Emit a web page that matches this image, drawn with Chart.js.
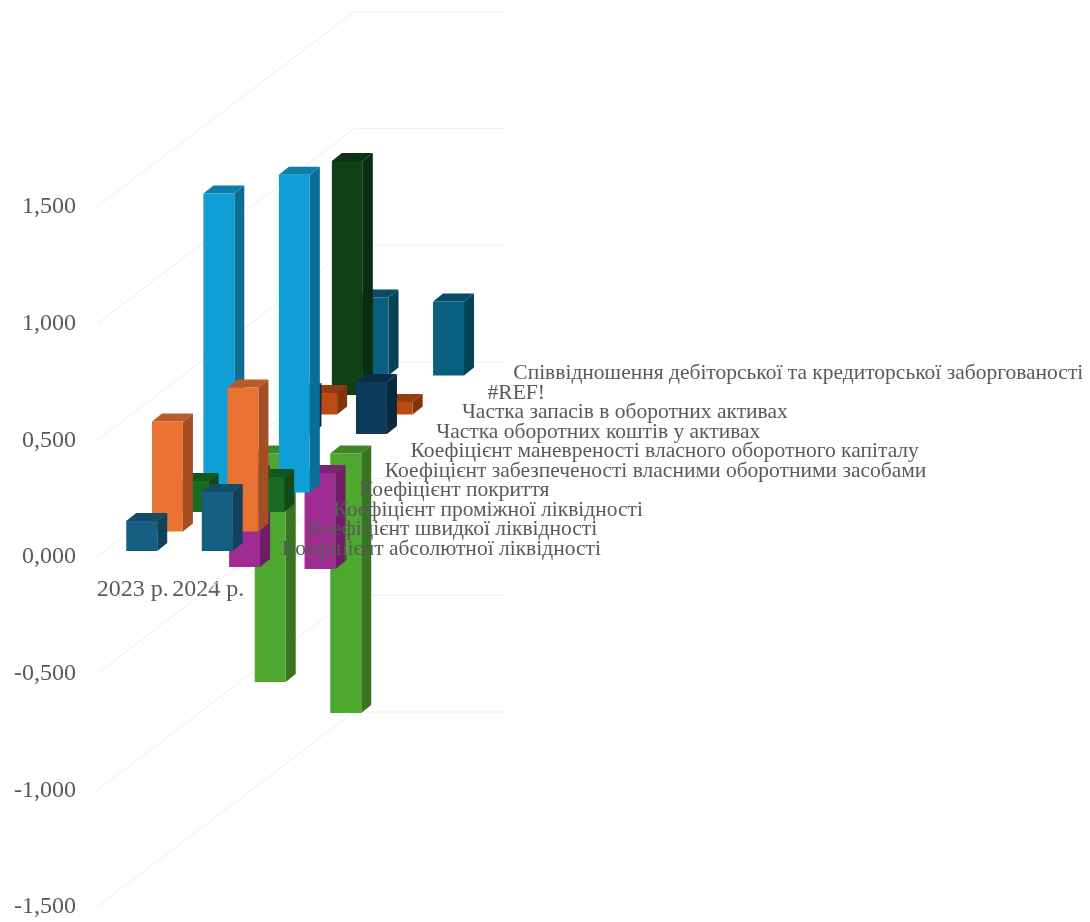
<!DOCTYPE html>
<html>
<head>
<meta charset="utf-8">
<title>Коефіцієнти ліквідності</title>
<style>
  html, body { margin: 0; padding: 0; background: #fff; }
  #wrap { width: 1090px; height: 922px; }
</style>
<script src="https://cdn.jsdelivr.net/npm/chart.js@4/dist/chart.umd.min.js"></script>
</head>
<body>
<div id="wrap"><canvas id="chart" width="1090" height="922"></canvas></div>
<script>
// Periods along the horizontal axis
const periods = ['2023 р.', '2024 р.'];

// Indicator names, front row first
const seriesNames = [
  'Коефіцієнт абсолютної ліквідності',
  'Коефіцієнт швидкої ліквідності',
  'Коефіцієнт проміжної ліквідності',
  'Коефіцієнт покриття',
  'Коефіцієнт забезпеченості власними оборотними засобами',
  'Коефіцієнт маневреності власного оборотного капіталу',
  'Частка оборотних коштів у активах',
  'Частка запасів в оборотних активах',
  '#REF!',
  'Співвідношення дебіторської та кредиторської заборгованості'
];

// Indicator values per period
const absoluteLiquidity = [0.129, 0.253];
const quickLiquidity = [0.471, 0.617];
const interimLiquidity = [0.133, 0.150];
const coverage = [1.281, 1.362];
const workingCapitalSecurity = [-0.403, -0.411];
const workingCapitalAgility = [-0.979, -1.112];
const currentAssetsShare = [0.184, 0.223];
const inventoryShare = [0.092, 0.054];
const refError = [1.003, null];
const receivablesPayablesRatio = [0.334, 0.317];

const seriesValues = [
  absoluteLiquidity, quickLiquidity, interimLiquidity, coverage,
  workingCapitalSecurity, workingCapitalAgility, currentAssetsShare,
  inventoryShare, refError, receivablesPayablesRatio
];

const seriesColors = [
  '#156082', '#E97132', '#196B24', '#0F9ED5', '#A02B93',
  '#4EA72E', '#0D3A5A', '#BC4A12', '#0F4016', '#095F80'
];

const TEXT_COLOR = '#595959';
const WALL_COLOR = '#eeeeee';
const ROW_DX = 25.7;    // horizontal shift from one row to the next
const ROW_DY = 19.5;    // vertical shift from one row to the next
const BAR_DX = 10;      // horizontal extent of a bar's depth
const BAR_DY = 8;       // vertical extent of a bar's depth
const ROWS = seriesNames.length;

function shade(hex, k) {
  const n = parseInt(hex.slice(1), 16);
  const c = [n >> 16, (n >> 8) & 255, n & 255].map(v => Math.round(v * k));
  return 'rgb(' + c.join(',') + ')';
}

function poly(ctx, pts, fill) {
  ctx.beginPath();
  pts.forEach((p, i) => (i ? ctx.lineTo(p[0], p[1]) : ctx.moveTo(p[0], p[1])));
  ctx.closePath();
  ctx.fillStyle = fill;
  ctx.fill();
}

// Oblique projection: each dataset is moved back along the depth direction,
// and gets a top and right face next to the front rectangle the library draws.
const depthPlugin = {
  id: 'depth',
  beforeDatasetsDraw(chart) {
    const { ctx, chartArea, scales } = chart;
    const w = ROWS * ROW_DX, h = ROWS * ROW_DY;
    ctx.save();
    ctx.strokeStyle = WALL_COLOR;
    ctx.lineWidth = 1;
    scales.y.ticks.forEach(t => {
      const y = scales.y.getPixelForValue(t.value);
      ctx.beginPath();
      ctx.moveTo(chartArea.left, y);
      ctx.lineTo(chartArea.left + w, y - h);
      ctx.lineTo(chartArea.right + w, y - h);
      ctx.stroke();
    });
    ctx.restore();
  },
  beforeDatasetDraw(chart, args) {
    const { ctx } = chart;
    const d = args.index;
    const color = seriesColors[d];
    ctx.save();
    ctx.translate(7 + d * ROW_DX, -(6 + d * ROW_DY));
    args.meta.data.forEach((bar, i) => {
      if (seriesValues[d][i] === null) return;
      const l = bar.x - bar.width / 2, r = bar.x + bar.width / 2;
      const top = Math.min(bar.y, bar.base), bot = Math.max(bar.y, bar.base);
      poly(ctx, [[r, top], [r + BAR_DX, top - BAR_DY], [r + BAR_DX, bot - BAR_DY], [r, bot]], shade(color, 0.7));
      poly(ctx, [[l, top], [r, top], [r + BAR_DX, top - BAR_DY], [l + BAR_DX, top - BAR_DY]], shade(color, 0.8));
    });
  },
  afterDatasetDraw(chart) {
    chart.ctx.restore();
  },
  // Row names run along the depth direction, on top of the bars
  afterDatasetsDraw(chart) {
    const { ctx, chartArea, scales } = chart;
    const y0 = scales.y.getPixelForValue(0);
    ctx.save();
    ctx.font = '21.5px "Liberation Serif"';
    ctx.fillStyle = TEXT_COLOR;
    ctx.textAlign = 'left';
    ctx.textBaseline = 'middle';
    seriesNames.forEach((name, d) => {
      ctx.fillText(name, chartArea.right + 34 + d * ROW_DX, y0 - 8 - d * ROW_DY);
    });
    ctx.restore();
  }
};

new Chart(document.getElementById('chart'), {
  type: 'bar',
  data: {
    labels: periods,
    datasets: seriesNames.map((name, i) => ({
      label: name,
      data: seriesValues[i],
      backgroundColor: seriesColors[i],
      grouped: false,
      clip: false,
      borderWidth: 0,
      barPercentage: 1,
      categoryPercentage: 0.41
    }))
  },
  plugins: [depthPlugin],
  options: {
    responsive: false,
    animation: false,
    layout: { padding: { top: 207, bottom: 15, left: 0, right: 842 } },
    plugins: { legend: { display: false }, tooltip: { enabled: false } },
    scales: {
      x: {
        position: { y: 0 },
        afterFit(scale) { scale.height = 0; },
        grid: { display: false, drawTicks: false },
        border: { display: false },
        ticks: {
          color: TEXT_COLOR,
          font: { family: '"Liberation Serif"', size: 24 },
          padding: 18,
          labelOffset: -2,
          maxRotation: 0,
          autoSkip: false
        }
      },
      y: {
        min: -1.5,
        max: 1.5,
        afterFit(scale) {
          scale.width = 97;
          // the tick padding should not push the plot area away from the edges
          scale.paddingTop = 0;
          scale.paddingBottom = 0;
        },
        grid: { display: false, drawTicks: false },
        border: { display: false },
        ticks: {
          stepSize: 0.5,
          color: TEXT_COLOR,
          font: { family: '"Liberation Serif"', size: 24 },
          padding: 21,
          callback: v => v.toFixed(3).replace('.', ',')
        }
      }
    }
  }
});
</script>
</body>
</html>
